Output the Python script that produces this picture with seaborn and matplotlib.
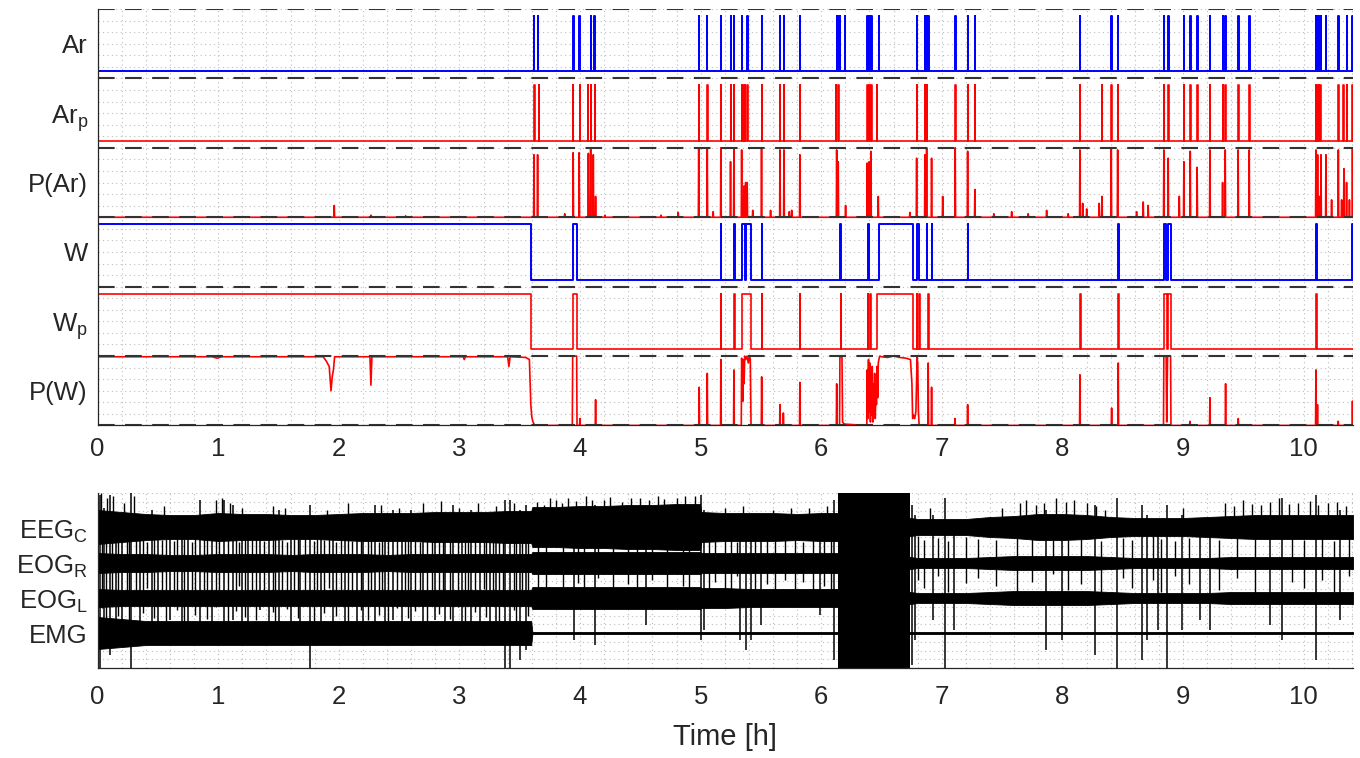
import numpy as np
import matplotlib
matplotlib.use("Agg")
import matplotlib.pyplot as plt
from matplotlib.ticker import MultipleLocator
import seaborn as sns

# ---------------------------------------------------------------- data
T_END = 10.41

row_labels = ['P(W)', r'W$_{\mathregular{p}}$', 'W', 'P(Ar)',
              r'Ar$_{\mathregular{p}}$', 'Ar']
chan_labels = ['EMG', r'EOG$_{\mathregular{L}}$', r'EOG$_{\mathregular{R}}$',
               r'EEG$_{\mathregular{C}}$']
hour_ticks = [0, 1, 2, 3, 4, 5, 6, 7, 8, 9, 10]

# scored arousals (Ar) and predicted arousals (Ar_p): onset times [h]
ar_times = [3.618, 3.648, 3.943, 3.993, 4.088, 4.118, 4.984, 5.050, 5.168,
            5.248, 5.276, 5.340, 5.386, 5.505, 5.658, 5.691, 5.823, 6.128,
            6.141, 6.155, 6.197, 6.381, 6.398, 6.414, 6.478, 6.791, 6.860,
            6.874, 6.887, 7.111, 7.214, 7.274, 8.145, 8.405, 8.458, 8.841,
            8.877, 9.007, 9.060, 9.117, 9.223, 9.328, 9.350, 9.457, 9.549,
            10.102, 10.116, 10.129, 10.144, 10.185, 10.288, 10.356, 10.402]
arp_times = [3.622, 3.659, 3.941, 3.999, 4.066, 4.091, 4.124, 4.984, 5.055,
             5.168, 5.248, 5.276, 5.340, 5.354, 5.367, 5.386, 5.505, 5.658,
             5.691, 5.823, 6.122, 6.141, 6.381, 6.398, 6.414, 6.459, 6.791,
             6.860, 6.874, 7.111, 7.214, 7.274, 8.145, 8.328, 8.405, 8.458,
             8.841, 8.877, 9.007, 9.060, 9.117, 9.223, 9.328, 9.350, 9.457,
             9.549, 10.102, 10.113, 10.125, 10.138, 10.288, 10.329, 10.356,
             10.402]
event_width = 0.004

# arousal probability P(Ar): peak times and heights
par_t = [1.962, 2.266, 2.554, 3.618, 3.648, 3.873, 3.943, 3.993, 4.069,
         4.088, 4.110, 4.129, 4.207, 4.671, 4.814, 4.984, 5.055, 5.104,
         5.168, 5.248, 5.276, 5.340, 5.359, 5.373, 5.386, 5.432, 5.505,
         5.580, 5.658, 5.691, 5.735, 5.755, 5.823, 6.128, 6.141, 6.202,
         6.381, 6.398, 6.412, 6.473, 6.735, 6.791, 6.860, 6.874, 6.915,
         7.007, 7.111, 7.214, 7.274, 7.431, 7.579, 7.716, 7.869, 8.048,
         8.145, 8.168, 8.201, 8.305, 8.328, 8.405, 8.458, 8.615, 8.670,
         8.711, 8.841, 8.877, 8.969, 9.007, 9.060, 9.117, 9.223, 9.328,
         9.350, 9.457, 9.549, 10.102, 10.116, 10.129, 10.144, 10.185,
         10.232, 10.288, 10.315, 10.334, 10.356, 10.380, 10.405]
par_v = [0.17, 0.03, 0.02, 0.90, 0.90, 0.05, 0.93, 0.93, 0.92,
         0.98, 0.90, 0.30, 0.03, 0.03, 0.07, 1.00, 1.00, 0.08,
         1.00, 0.80, 1.00, 0.97, 0.45, 0.50, 0.50, 0.10, 1.00,
         0.10, 0.97, 0.97, 0.08, 0.10, 0.90, 0.97, 0.80, 0.17,
         0.78, 0.80, 0.95, 0.30, 0.07, 0.85, 0.90, 1.00, 0.85,
         0.30, 1.00, 0.95, 0.40, 0.05, 0.08, 0.05, 0.10, 0.05,
         0.97, 0.20, 0.12, 0.20, 0.30, 1.00, 0.97, 0.08, 0.22,
         0.17, 0.97, 0.85, 0.30, 0.80, 0.95, 0.72, 0.97, 0.50,
         0.97, 0.97, 0.97, 0.97, 0.90, 0.30, 0.90, 0.90,
         0.25, 0.97, 0.25, 0.70, 0.50, 0.25, 1.00]

# scored wake (W) and predicted wake (W_p): start / end [h]
w_on = [0.0, 3.939, 5.168, 5.276, 5.340, 5.373, 5.506, 6.155, 6.385, 6.479,
        6.791, 6.874, 6.915, 7.214, 8.463, 8.841, 8.872, 10.102, 10.403]
w_off = [3.590, 3.972, 5.173, 5.281, 5.367, 5.415, 5.511, 6.160, 6.398, 6.763,
         6.810, 6.879, 6.920, 7.219, 8.468, 8.860, 8.897, 10.107, 10.41]
wp_on = [0.0, 3.939, 5.168, 5.276, 5.340, 5.506, 5.823, 6.163, 6.385, 6.404,
         6.459, 6.791, 6.813, 6.887, 8.145, 8.463, 8.841, 8.877, 10.102]
wp_off = [3.594, 3.972, 5.173, 5.281, 5.415, 5.511, 5.828, 6.168, 6.390, 6.409,
          6.758, 6.796, 6.818, 6.892, 8.150, 8.468, 8.863, 8.897, 10.107]

# wake probability P(W): continuous segments and isolated peaks
pw_onset_t = [0.0, 0.95, 0.99, 1.03, 1.87, 1.895, 1.92, 1.935, 1.945, 1.955,
              1.965, 2.258, 2.266, 2.274, 3.03, 3.04, 3.05, 3.40, 3.41, 3.42,
              3.55, 3.58, 3.592, 3.60, 3.61, 3.625]
pw_onset_v = [0.99, 0.99, 0.97, 0.99, 0.99, 0.93, 0.85, 0.50, 0.70, 0.80,
              0.99, 0.99, 0.58, 0.99, 0.99, 0.95, 0.99, 0.99, 0.85, 0.99,
              0.98, 0.95, 0.30, 0.12, 0.05, 0.0]
pw_box_t = [3.936, 3.939, 3.972, 3.975]
pw_box_v = [0.0, 1.0, 1.0, 0.0]
pw_burst1_t = [5.337, 5.340, 5.345, 5.350, 5.355, 5.360, 5.366, 5.375, 5.385,
               5.395, 5.405, 5.412, 5.418]
pw_burst1_v = [0.0, 0.97, 0.80, 0.35, 0.95, 0.60, 1.0, 0.95, 1.0, 0.90, 1.0,
               0.95, 0.0]
pw_burst2_t = [6.152, 6.155, 6.172, 6.177, 6.19]
pw_burst2_v = [0.0, 1.0, 0.98, 0.05, 0.02]
pw_burst3_t = [6.378, 6.381, 6.386, 6.392, 6.398, 6.403, 6.408, 6.413, 6.418,
               6.423, 6.428, 6.433, 6.438, 6.443, 6.448, 6.453, 6.458, 6.463,
               6.468, 6.473, 6.478, 6.485, 6.50, 6.55, 6.60, 6.65, 6.70, 6.74,
               6.752, 6.758, 6.765, 6.775, 6.785, 6.795, 6.80, 6.806, 6.812]
pw_burst3_v = [0.0, 0.80, 0.10, 0.95, 0.20, 0.90, 0.05, 0.70, 0.15, 0.85,
               0.05, 0.60, 0.20, 0.75, 0.10, 0.50, 0.30, 0.85, 0.40, 0.90,
               0.95, 1.0, 0.99, 0.98, 1.0, 0.98, 0.97, 0.95, 0.60, 0.10, 0.15,
               0.10, 0.20, 0.98, 0.90, 0.20, 0.0]
pw_burst4_t = [8.838, 8.841, 8.860, 8.865, 8.872, 8.897, 8.900]
pw_burst4_v = [0.0, 1.0, 1.0, 0.05, 1.0, 1.0, 0.0]
pw_peak_t = [3.999, 4.129, 4.988, 5.055, 5.168, 5.276, 5.506, 5.658, 5.686,
             5.823, 6.128, 6.887, 6.915, 7.109, 7.214, 8.145, 8.408, 8.463,
             9.057, 9.223, 9.353, 9.458, 10.102, 10.115, 10.287, 10.405]
pw_peak_v = [0.10, 0.37, 0.55, 0.75, 0.95, 0.80, 0.70, 0.30, 0.18,
             0.62, 0.60, 0.90, 0.55, 0.10, 0.30, 0.73, 0.25, 0.90,
             0.06, 0.40, 0.60, 0.10, 0.80, 0.30, 0.06, 0.35]

# polysomnography traces: envelope half-widths at knot times
env_t = [0.0, 0.2, 0.4, 0.6, 0.8, 1.0, 1.2, 1.4, 1.6, 1.8, 2.0, 2.2, 2.4, 2.6,
         2.8, 3.0, 3.2, 3.4, 3.595, 3.605, 3.8, 4.0, 4.2, 4.4, 4.6, 4.8,
         4.995, 5.005, 5.2, 5.4, 5.6, 5.8, 6.0, 6.2, 6.4, 6.6, 6.74, 6.8,
         7.0, 7.2, 7.4, 7.6, 7.8, 8.0, 8.2, 8.4, 8.6, 8.8, 9.0, 9.2, 9.4,
         9.6, 9.8, 10.0, 10.2, 10.41]
eeg_hw = [17, 15, 13, 12, 12, 14, 13, 13, 12, 12, 13, 14, 14, 14,
          15, 15, 15, 16, 16, 20, 20, 21, 21, 22, 22, 23, 23,
          15, 14, 14, 14, 13, 14, 14, 14, 14, 9, 8, 8, 8,
          10, 11, 13, 13, 12, 10, 9, 9, 9, 10, 11, 12, 12,
          12, 12, 12]
eogr_hw = [10, 9, 9, 8, 8, 9, 9, 9, 8, 9, 9, 9, 8, 9,
           9, 9, 9, 9, 9, 11, 11, 11, 11, 11, 11, 11, 11,
           10, 10, 10, 10, 10, 10, 10, 10, 10, 6, 5, 5, 5,
           6, 7, 7, 7, 7, 6, 5, 5, 5, 5, 6, 6, 6,
           6, 6, 6]
eogl_hw = [9, 8, 8, 8, 8, 8, 8, 8, 8, 8, 8, 8, 8, 8,
           8, 8, 8, 8, 8, 11, 11, 11, 11, 11, 11, 11, 11,
           10, 10, 9, 9, 9, 9, 9, 9, 9, 6, 5, 5, 5,
           6, 7, 7, 7, 7, 6, 5, 5, 5, 5, 6, 6, 6,
           6, 6, 6]
emg_hw = [16, 14, 12, 12, 12, 12, 12, 12, 12, 12, 12, 12, 12, 12,
          12, 12, 12, 12, 12, 1.0, 1.0, 1.0, 1.0, 1.0, 1.0, 1.0, 1.0,
          1.0, 1.0, 1.0, 1.0, 1.0, 1.0, 1.0, 1.0, 1.0, 1.0, 1.0, 1.0, 1.0,
          1.0, 1.0, 1.0, 1.0, 1.0, 1.0, 1.0, 1.0, 1.0, 1.0, 1.0, 1.0, 1.0,
          1.0, 1.0, 1.0]
chan_center = [35, 70, 105, 141]
artifact_start, artifact_end = 6.14, 6.737

# movement artefacts crossing several channels: time, top, bottom
art_t = [0.02, 0.05, 0.10, 0.15, 0.20, 0.28, 0.35, 0.45, 0.50, 0.60, 0.70,
         0.75, 0.85, 0.95, 1.05, 1.12, 1.20, 1.25, 1.35, 1.42, 1.50, 1.60,
         1.68, 1.76, 1.85, 1.95, 2.05, 2.15, 2.20, 2.30, 2.38, 2.45, 2.52,
         2.60, 2.70, 2.80, 2.88, 2.95, 3.02, 3.10, 3.17, 3.25, 3.30, 3.38,
         3.42, 3.50, 3.55, 3.95, 4.12, 4.55, 5.00, 5.03, 5.33, 5.38, 5.42,
         5.50, 5.99, 6.11, 6.75, 6.78, 6.93, 7.03, 7.10, 7.86, 8.00, 8.27,
         8.45, 8.66, 8.70, 8.79, 8.87, 8.99, 9.14, 9.22, 9.72, 9.82, 10.10,
         10.30]
art_top = [173, 160, 173, 150, 155, 175, 150, 158, 150, 148, 150,
           152, 168, 150, 168, 163, 150, 152, 153, 150, 158, 150,
           152, 163, 150, 148, 153, 150, 152, 163, 150, 158, 150,
           158, 150, 153, 152, 163, 150, 158, 152, 153, 150, 168,
           168, 158, 163, 153, 163, 158, 173, 158, 148, 153, 148,
           148, 153, 168, 163, 153, 153, 170, 148, 158, 148, 163,
           170, 163, 153, 148, 163, 153, 148, 148, 153, 170, 173,
           158]
art_bot = [0, 30, 13, 45, 40, 0, 45, 28, 40, 48, 42,
           45, 38, 45, 28, 48, 45, 42, 58, 45, 38, 45,
           40, 0, 45, 28, 43, 45, 40, 28, 45, 48, 42,
           38, 45, 48, 42, 28, 45, 38, 42, 28, 40, 0,
           0, 8, 18, 28, 23, 43, 28, 38, 28, 18, 28,
           43, 53, 8, 3, 28, 48, 0, 38, 18, 28, 13,
           0, 8, 28, 38, 0, 38, 48, 38, 43, 28, 8,
           48]
# eye-movement streaks bridging the gaps between channels: time, top, bottom
gap_t = [0.04, 0.07, 0.12, 0.17, 0.24, 0.26, 0.32, 0.38, 0.41, 0.47, 0.53,
         0.57, 0.63, 0.66, 0.72, 0.78, 0.81, 0.88, 0.91, 0.98, 1.01, 1.08,
         1.15, 1.17, 1.22, 1.28, 1.31, 1.38, 1.45, 1.47, 1.53, 1.57, 1.63,
         1.66, 1.72, 1.79, 1.82, 1.88, 1.92, 1.98, 2.02, 2.08, 2.11, 2.18,
         2.24, 2.27, 2.33, 2.36, 2.41, 2.48, 2.55, 2.57, 2.63, 2.67, 2.73,
         2.77, 2.83, 2.86, 2.92, 2.99, 3.05, 3.07, 3.13, 3.20, 3.22, 3.28,
         3.33, 3.36, 3.45, 3.47, 3.52, 3.57, 3.65, 3.72, 3.86, 3.98, 4.03,
         4.15, 4.27, 4.40, 4.47, 4.60, 4.72, 4.85, 4.90, 5.07, 5.12, 5.20,
         5.25, 5.30, 5.45, 5.55, 5.62, 5.70, 5.78, 5.85, 5.93, 6.02, 6.08,
         6.80, 6.85, 6.97, 7.05, 7.20, 7.30, 7.45, 7.62, 7.75, 7.92, 8.05,
         8.15, 8.32, 8.50, 8.58, 8.75, 8.82, 8.93, 9.05, 9.30, 9.45, 9.60,
         9.90, 10.00, 10.15, 10.25, 10.38]
gap_top = [130, 126, 134, 128, 131, 127, 133, 129, 126, 132, 128,
           130, 127, 134, 129, 126, 131, 133, 128, 130, 127, 132,
           129, 126, 134, 128, 131, 127, 130, 133, 128, 126, 132,
           129, 131, 127, 134, 128, 130, 126, 133, 129, 127, 131,
           128, 134, 126, 130, 132, 127, 129, 133, 128, 126, 131,
           130, 127, 134, 129, 128, 132, 126, 130, 133, 127, 129,
           131, 128, 134, 126, 130, 132, 128, 126, 130, 127, 129,
           126, 131, 128, 127, 130, 126, 129, 128, 131, 127, 130,
           128, 126, 129, 131, 127, 130, 128, 126, 129, 127, 130,
           132, 128, 130, 127, 131, 129, 128, 133, 130, 128, 131,
           129, 127, 130, 128, 132, 129, 127, 130, 128, 131, 129,
           132, 128, 130, 127, 131]
gap_bot = [60, 48, 75, 52, 66, 45, 70, 55, 80, 50, 63,
           47, 72, 58, 44, 68, 53, 78, 49, 61, 74, 46,
           57, 82, 51, 65, 48, 71, 56, 44, 67, 59, 76,
           50, 62, 47, 73, 55, 80, 52, 64, 45, 69, 58,
           48, 75, 53, 66, 44, 60, 71, 50, 57, 78, 46,
           63, 54, 72, 49, 61, 45, 68, 56, 79, 51, 65,
           47, 70, 58, 43, 62, 52, 80, 74, 66, 85, 78,
           90, 72, 84, 76, 88, 70, 82, 79, 64, 86, 75,
           68, 92, 77, 84, 70, 88, 79, 86, 73, 82, 76,
           88, 80, 92, 76, 85, 90, 82, 74, 86, 94, 78,
           84, 72, 90, 80, 88, 76, 92, 84, 78, 90, 74,
           86, 80, 88, 76, 92]
# upward EEG bursts: time, peak
burst_t = [0.03, 0.08, 0.13, 0.22, 0.30, 0.55, 0.98, 1.03, 1.10, 1.20, 1.45,
           1.55, 1.90, 2.08, 2.35, 2.50, 2.70, 2.85, 3.00, 3.15, 3.30, 3.45,
           3.64, 3.70, 3.75, 3.80, 3.85, 3.90, 3.97, 4.05, 4.10, 4.20, 4.25,
           4.35, 4.42, 4.50, 4.57, 4.65, 4.70, 4.80, 4.87, 4.95, 5.20, 5.35,
           5.60, 5.75, 5.90, 6.05, 6.90, 7.50, 7.65, 7.70, 7.78, 7.85, 7.95,
           8.03, 8.10, 8.20, 8.28, 8.35, 9.00, 9.35, 9.42, 9.50, 9.57, 9.65,
           9.72, 9.80, 9.88, 9.95, 10.05, 10.12, 10.20, 10.28, 10.35]
burst_top = [175, 170, 172, 165, 172, 162, 168, 170, 165, 160, 162,
             160, 158, 165, 163, 160, 165, 167, 160, 165, 162, 165,
             166, 163, 170, 168, 165, 170, 167, 172, 168, 168, 171,
             166, 170, 170, 168, 172, 169, 170, 172, 172, 160, 162,
             158, 160, 160, 162, 160, 160, 165, 168, 163, 165, 170,
             166, 168, 165, 162, 158, 160, 165, 162, 168, 164, 163,
             166, 170, 164, 165, 167, 163, 165, 166, 162]


# ---------------------------------------------------------------- helpers
def binary_trace(on, off, lo, hi):
    x, y = [0.0], [lo]
    for s, e in zip(on, off):
        x += [s, s, e, e]
        y += [lo, hi, hi, lo]
    x.append(T_END)
    y.append(lo)
    return np.array(x), np.array(y)


def prob_trace(segments, peak_t, peak_v, base):
    pieces = [list(zip(st, sv)) for st, sv in segments]
    pieces += [[(t - 0.003, 0.0), (t, v), (t + 0.003, 0.0)]
               for t, v in zip(peak_t, peak_v)]
    pieces.sort(key=lambda p: p[0][0])
    pts = []
    for p in pieces:
        pts += p
    if pts[0][0] > 0:
        pts = [(0.0, 0.0)] + pts
    pts.append((T_END, 0.0))
    x = np.array([p[0] for p in pts])
    y = np.array([p[1] for p in pts]) + base
    return x, y


# ---------------------------------------------------------------- style
sns.set_style("white")
plt.rcParams['font.family'] = ['Liberation Sans', 'DejaVu Sans']
plt.rcParams['mathtext.fontset'] = 'custom'
plt.rcParams['mathtext.rm'] = 'Liberation Sans'
AX_COL = '#262626'
GRID_KW = dict(color='#bdbdbd', linestyle=(0, (1, 3)), linewidth=0.8)
BLUE, RED = '#0000ff', '#ff0000'

fig = plt.figure(figsize=(13.6, 7.58), dpi=100)
ax1 = fig.add_axes([0.0718, 0.4387, 0.9231, 0.5494])
ax2 = fig.add_axes([0.0718, 0.1187, 0.9231, 0.2309])

# ---------------------------------------------------------------- top panel
lo_b, hi_b = 0.1, 0.9
x, y = binary_trace(ar_times, [t + event_width for t in ar_times], 5 + lo_b, 5 + hi_b)
sns.lineplot(x=x, y=y, ax=ax1, color=BLUE, lw=1.4, estimator=None, sort=False)
x, y = binary_trace(arp_times, [t + event_width for t in arp_times], 4 + lo_b, 4 + hi_b)
sns.lineplot(x=x, y=y, ax=ax1, color=RED, lw=1.2, estimator=None, sort=False)
x, y = prob_trace([], par_t, par_v, 3)
sns.lineplot(x=x, y=y, ax=ax1, color=RED, lw=1.2, estimator=None, sort=False)
x, y = binary_trace(w_on, w_off, 2 + lo_b, 2 + hi_b)
sns.lineplot(x=x, y=y, ax=ax1, color=BLUE, lw=1.4, estimator=None, sort=False)
x, y = binary_trace(wp_on, wp_off, 1 + lo_b, 1 + hi_b)
sns.lineplot(x=x, y=y, ax=ax1, color=RED, lw=1.2, estimator=None, sort=False)
x, y = prob_trace([(pw_onset_t, pw_onset_v), (pw_box_t, pw_box_v),
                   (pw_burst1_t, pw_burst1_v), (pw_burst2_t, pw_burst2_v),
                   (pw_burst3_t, pw_burst3_v), (pw_burst4_t, pw_burst4_v)],
                  pw_peak_t, pw_peak_v, 0)
sns.lineplot(x=x, y=y, ax=ax1, color=RED, lw=1.2, estimator=None, sort=False)

for k in range(0, 7):
    ax1.axhline(k, color='#333333', lw=1.5, dashes=(8, 5), zorder=5)

ax1.set_xlim(0, T_END)
ax1.set_ylim(0, 6)
ax1.set_yticks([k + 0.5 for k in range(6)])
ax1.set_yticklabels(row_labels)
ax1.yaxis.set_minor_locator(MultipleLocator(1 / 6))

# ---------------------------------------------------------------- bottom panel
for c, hw in zip(chan_center, [emg_hw, eogl_hw, eogr_hw, eeg_hw]):
    h = np.array(hw, dtype=float)
    ax2.fill_between(env_t, c - h, c + h, color='black', lw=0.6,
                     edgecolor='black')
ax2.vlines(gap_t, gap_bot, gap_top, color='black', lw=1.0)
ax2.vlines(art_t, art_bot, art_top, color='black', lw=1.1)
ax2.vlines(burst_t, chan_center[3], burst_top, color='black', lw=1.0)
ax2.axvspan(artifact_start, artifact_end, color='black', lw=0)
sns.lineplot(x=[0, T_END], y=[35, 35], ax=ax2, color='black', lw=1.0,
             estimator=None, sort=False)

ax2.set_xlim(0, T_END)
ax2.set_ylim(0, 175)
ax2.set_yticks([35, 70, 105, 140])
ax2.set_yticklabels(chan_labels)
ax2.yaxis.set_minor_locator(MultipleLocator(8.75))
ax2.set_xlabel('Time [h]', fontsize=21, color=AX_COL, labelpad=10)

for ax in (ax1, ax2):
    ax.set_xticks(hour_ticks)
    ax.xaxis.set_minor_locator(MultipleLocator(0.2))
    ax.grid(True, which='both', **GRID_KW)
    ax.set_axisbelow(True)
    for s in ('top', 'right'):
        ax.spines[s].set_visible(False)
    for s in ('left', 'bottom'):
        ax.spines[s].set_color(AX_COL)
        ax.spines[s].set_linewidth(0.9)
        ax.spines[s].set_zorder(6)
    ax.tick_params(which='major', direction='in', length=8.5, width=0.9,
                   color=AX_COL, labelcolor=AX_COL, labelsize=18.5, pad=7)
    ax.tick_params(which='minor', length=0)
    ax.set_ylabel('')
    ax.set_facecolor('white')
ax1.tick_params(axis='x', which='major', pad=8.5)
ax2.tick_params(axis='x', which='major', pad=12)

fig.savefig('out.png', dpi=100, facecolor='white')
